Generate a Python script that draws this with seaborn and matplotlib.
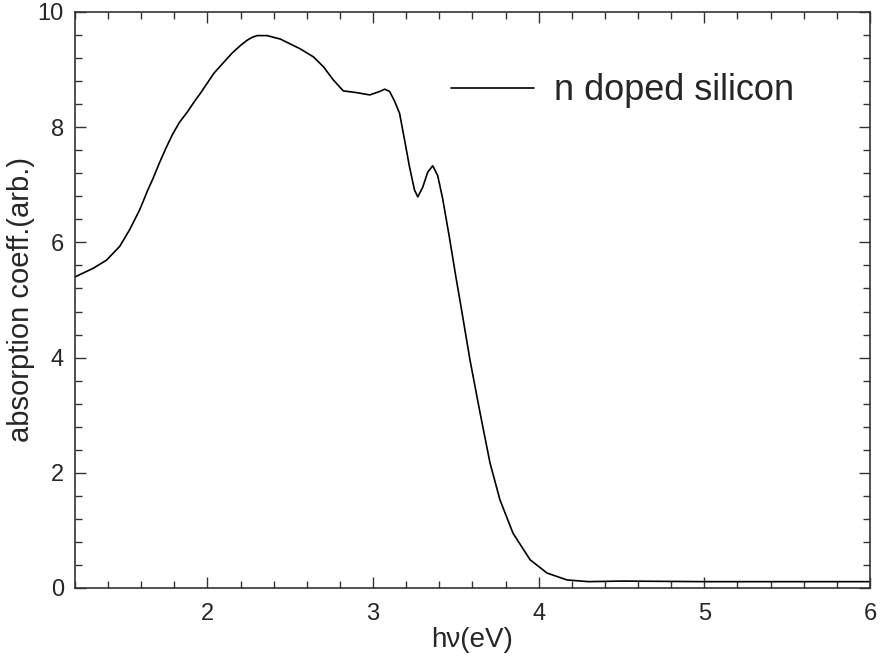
import matplotlib
matplotlib.use("Agg")
import matplotlib.pyplot as plt
from matplotlib.ticker import MultipleLocator
import seaborn as sns
import pandas as pd

# Photon energy (eV) and absorption coefficient (arb. units)
energy_ev = [
    1.20, 1.31, 1.39, 1.47, 1.53, 1.59, 1.64, 1.67, 1.71, 1.75, 1.79, 1.83,
    1.88, 1.92, 1.96, 2.00, 2.04, 2.09, 2.15, 2.20, 2.24, 2.27, 2.30, 2.36,
    2.44, 2.56, 2.64, 2.70, 2.76, 2.82, 2.90, 2.98, 3.04, 3.07, 3.10, 3.13,
    3.16, 3.19, 3.22, 3.25, 3.27, 3.30, 3.33, 3.36, 3.39, 3.42, 3.46, 3.50,
    3.53, 3.585, 3.646, 3.706, 3.766, 3.845, 3.948, 4.05, 4.17, 4.30, 4.50,
    5.00, 5.50, 6.00,
]
absorption = [
    5.40, 5.55, 5.69, 5.93, 6.22, 6.56, 6.91, 7.10, 7.38, 7.64, 7.88, 8.08,
    8.27, 8.44, 8.60, 8.77, 8.94, 9.10, 9.29, 9.42, 9.51, 9.56, 9.59, 9.59,
    9.53, 9.36, 9.22, 9.05, 8.82, 8.63, 8.60, 8.56, 8.62, 8.66, 8.62, 8.45,
    8.24, 7.78, 7.31, 6.91, 6.79, 6.96, 7.22, 7.33, 7.16, 6.76, 6.10, 5.40,
    4.90, 3.96, 3.04, 2.17, 1.53, 0.95, 0.49, 0.26, 0.14, 0.11, 0.12,
    0.11, 0.11, 0.11,
]
series_label = "n doped silicon"
x_label = "h\u03bd(eV)"
y_label = "absorption coeff.(arb.)"

df = pd.DataFrame({"energy": energy_ev, "absorption": absorption})

sns.set_style("ticks")
plt.rcParams["font.family"] = ["Liberation Sans", "DejaVu Sans"]

fig = plt.figure(figsize=(8.85, 6.58), dpi=100)
ax = fig.add_axes([0.0847, 0.1064, 0.8983, 0.8754])

sns.lineplot(data=df, x="energy", y="absorption", ax=ax, color="black",
             linewidth=1.2, label=series_label, sort=False)

ax.set_xlim(1.2, 6)
ax.set_ylim(0, 10)
ax.xaxis.set_major_locator(MultipleLocator(1))
ax.xaxis.set_minor_locator(MultipleLocator(0.2))
ax.yaxis.set_major_locator(MultipleLocator(2))
ax.yaxis.set_minor_locator(MultipleLocator(0.4))
ax.tick_params(which="both", direction="in", top=True, right=True,
               color="#333333", width=1.0)
ax.tick_params(which="major", length=8, labelsize=17)
ax.tick_params(axis="x", which="major", pad=11)
ax.tick_params(axis="y", which="major", pad=8)
ax.tick_params(which="minor", length=5)
for s in ax.spines.values():
    s.set_linewidth(1.2)
    s.set_color("#333333")

ax.set_xlabel(x_label, fontsize=20, labelpad=1)
ax.set_ylabel(y_label, fontsize=21, labelpad=2)

leg = ax.legend(loc="upper left", bbox_to_anchor=(0.432, 0.95), frameon=False,
                fontsize=26, handlelength=2.3, handletextpad=0.55)

fig.savefig("out.png", dpi=100)
